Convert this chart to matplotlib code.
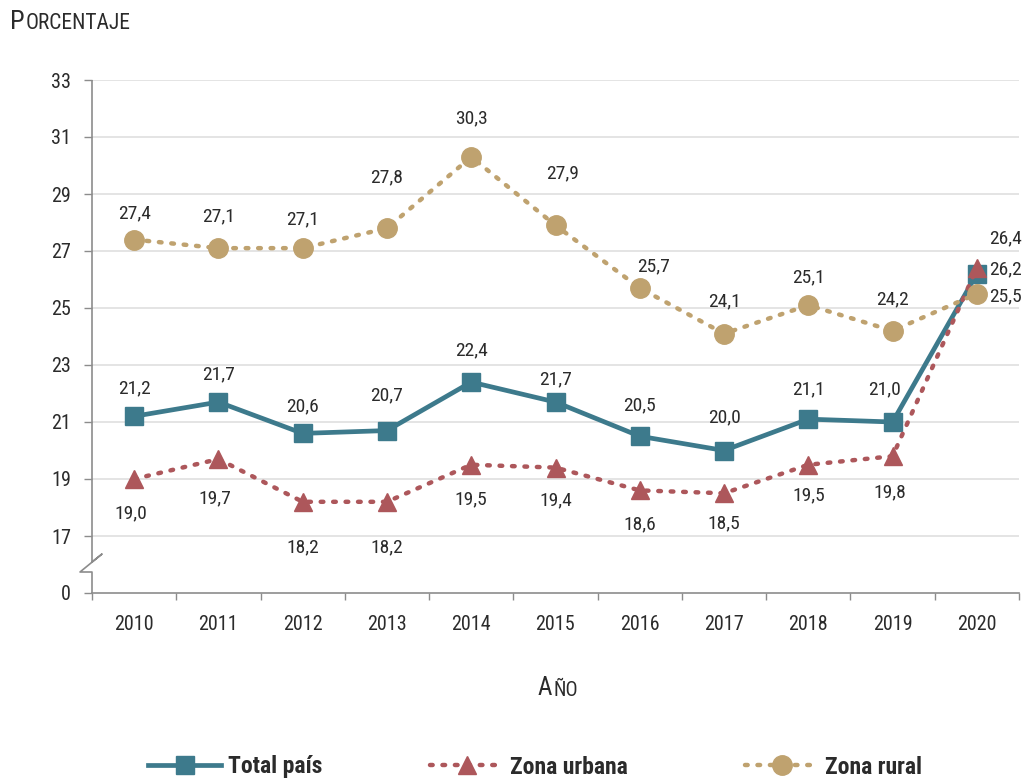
import matplotlib
matplotlib.use("Agg")
import matplotlib.pyplot as plt
from matplotlib.lines import Line2D
import numpy as np

# ---------------- data ----------------
years = ["2010", "2011", "2012", "2013", "2014", "2015", "2016", "2017", "2018", "2019", "2020"]
total_pais = [21.2, 21.7, 20.6, 20.7, 22.4, 21.7, 20.5, 20.0, 21.1, 21.0, 26.2]
zona_urbana = [19.0, 19.7, 18.2, 18.2, 19.5, 19.4, 18.6, 18.5, 19.5, 19.8, 26.4]
zona_rural = [27.4, 27.1, 27.1, 27.8, 30.3, 27.9, 25.7, 24.1, 25.1, 24.2, 25.5]
ytick_values = [17, 19, 21, 23, 25, 27, 29, 31, 33]
series_names = ["Total país", "Zona urbana", "Zona rural"]

# label offsets in pixels (dx, dy) relative to marker, dy positive = up
total_off = [(0, 28), (0, 28), (0, 27), (0, 35), (0, 32), (0, 23), (0, 31), (0, 33), (0, 30), (-8, 33), (12, 4)]
urban_off = [(-3, -34), (-4, -39), (0, -46), (0, -46), (0, -35), (0, -33), (0, -34), (0, -30), (0, -31), (-3, -36), (12, 30)]
rural_off = [(0, 26), (0, 32), (0, 29), (0, 51), (0, 39), (7, 52), (14, 22), (0, 32), (0, 28), (0, 31), (12, -3)]

C_TOTAL = "#3d7a8c"
C_URB = "#ad575b"
C_RUR = "#bfa26f"
TXT = "#2b2b2b"
FONT = ["Liberation Sans Narrow", "Roboto Condensed", "Roboto", "DejaVu Sans"]
plt.rcParams["font.family"] = FONT

fig = plt.figure(figsize=(10.24, 7.82), dpi=100)
ax = fig.add_axes([92 / 1024, 1 - 593 / 782, (1019 - 92) / 1024, (593 - 80) / 782])

x = np.arange(len(years))
BASE = 15  # position on the broken axis representing 0
DOT = (0, (0.6, 2.2))

ax.plot(x, total_pais, color=C_TOTAL, lw=3.4, marker="s", ms=12.5,
        mec=C_TOTAL, mfc=C_TOTAL, zorder=3)
ax.plot(x, zona_urbana, color=C_URB, lw=3.2, ls=DOT, dash_capstyle="round",
        marker="^", ms=13, mec=C_URB, mfc=C_URB, zorder=4)
ax.plot(x, zona_rural, color=C_RUR, lw=3.2, ls=DOT, dash_capstyle="round",
        marker="o", ms=14, mec=C_RUR, mfc=C_RUR, zorder=5)

def fmt(v):
    return f"{v:.1f}".replace(".", ",")

for vals, offs in ((total_pais, total_off), (zona_urbana, urban_off), (zona_rural, rural_off)):
    for i, (v, (dx, dy)) in enumerate(zip(vals, offs)):
        last = i == len(vals) - 1
        ax.annotate(fmt(v), (x[i], v), xytext=(dx, dy), textcoords="offset pixels",
                    ha="left" if last else "center", va="center",
                    fontsize=14, color=TXT, zorder=6)

ax.set_xlim(-0.5, len(years) - 0.5)
ax.set_ylim(BASE, 33)

# gridlines
for v in ytick_values:
    ax.axhline(v, color="#dcdcdc", lw=1.1, zorder=1)

ax.set_yticks([BASE] + ytick_values)
ax.set_yticklabels(["0"] + [str(v) for v in ytick_values])
ax.set_xticks(x)
ax.set_xticklabels(years)
ax.set_xticks(np.arange(-0.5, len(years)), minor=True)
ax.tick_params(axis="x", which="major", length=0, pad=16, labelsize=14.5, colors=TXT)
ax.tick_params(axis="x", which="minor", length=5, width=1, color="#8c8c8c", direction="out")
ax.tick_params(axis="y", length=6, width=1, color="#8c8c8c", pad=9, labelsize=14.5, labelcolor=TXT)

for s in ("top", "right", "left"):
    ax.spines[s].set_visible(False)
ax.spines["bottom"].set_color("#8c8c8c")
ax.spines["bottom"].set_linewidth(1.2)

# left axis line with break
px = 1 / 84.3  # one pixel in x data units
py = 1 / 28.5  # one pixel in y data units
lx = -0.5
kw = dict(color="#8c8c8c", lw=1.2, clip_on=False, zorder=2, solid_capstyle="butt")
ax.add_line(Line2D([lx, lx], [33, BASE + 38 * py], **kw))
ax.add_line(Line2D([lx, lx, lx + 10 * px, lx - 12 * px, lx, lx],
                   [BASE + 38 * py, BASE + 31 * py, BASE + 39 * py, BASE + 21 * py, BASE + 21 * py, BASE],
                   **kw))

# axis titles (small caps imitation)
t1 = fig.text(10 / 1024, 1 - 29 / 782, "P", fontsize=19, color=TXT, ha="left", va="baseline")
fig.canvas.draw()
ax.annotate("ORCENTAJE", xy=(1, 0), xycoords=t1, xytext=(0.5, 0), textcoords="offset points",
            fontsize=15.5, color=TXT, ha="left", va="bottom")

t2 = fig.text(538 / 1024, 1 - 695 / 782, "A", fontsize=18, color=TXT, ha="left", va="baseline")
fig.canvas.draw()
ax.annotate("ÑO", xy=(1, 0), xycoords=t2, xytext=(0.5, 0), textcoords="offset points",
            fontsize=14.5, color=TXT, ha="left", va="bottom")

# legend: three separate entries
handles = [
    Line2D([], [], color=C_TOTAL, lw=3.4, marker="s", ms=12.5),
    Line2D([], [], color=C_URB, lw=3.2, ls=DOT, dash_capstyle="round", marker="^", ms=13),
    Line2D([], [], color=C_RUR, lw=3.2, ls=DOT, dash_capstyle="round", marker="o", ms=14),
]
starts = [148, 430, 745]
for h, name, sx in zip(handles, series_names, starts):
    leg = fig.legend([h], [name], loc="center left", bbox_to_anchor=(sx / 1024, 1 - 767 / 782),
                     frameon=False, handlelength=3.1, handletextpad=0.3, borderpad=0,
                     borderaxespad=0, numpoints=1,
                     prop={"family": FONT, "size": 17, "weight": "bold"})
    for t in leg.get_texts():
        t.set_color(TXT)

fig.savefig("out.png", dpi=100, facecolor="white")
